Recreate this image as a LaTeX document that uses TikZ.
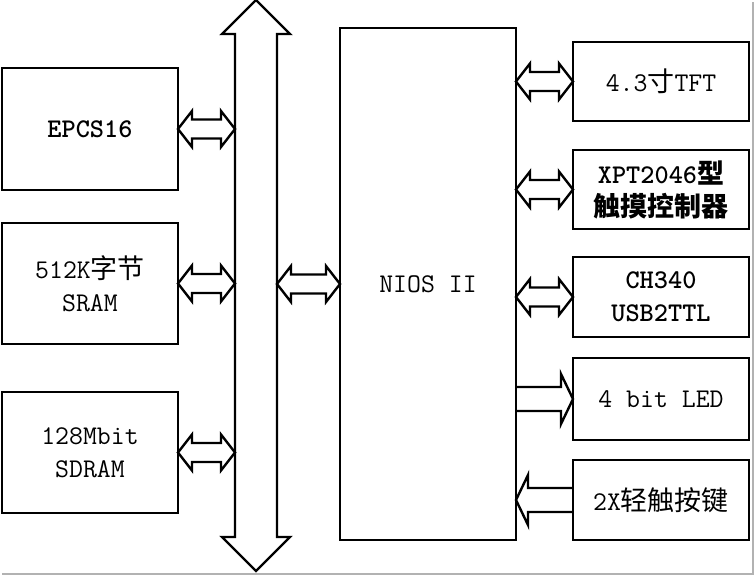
\documentclass[tikz,border=0pt]{standalone}
\usepackage{fontspec}
\newfontfamily\cjk{Noto Sans CJK SC}
\usetikzlibrary{calc}

\tikzset{
    unit/.style={draw, line width=2.4pt, rectangle, inner sep=0pt, outer sep=0pt,
        minimum width=176pt, align=center,
        font=\fontsize{27}{33}\selectfont\ttfamily},
    heavy/.style={font=\fontsize{27}{33}\selectfont\ttfamily\bfseries},
    hollow/.style={draw, line width=2.4pt, line join=miter},
}

\begin{document}
\begin{tikzpicture}[x=1pt,y=-1pt]
    \useasboundingbox (0,0) rectangle (756,577);
    % outline arrows
    \def\twoway#1#2{
        \path ($(#1)!14pt!(#2)$) coordinate (ta) ($(#2)!14pt!(#1)$) coordinate (tb);
        \draw[hollow] (#1) -- ($(ta)!18pt!90:(#2)$) -- ($(ta)!9.5pt!90:(#2)$)
            -- ($(tb)!9.5pt!-90:(#1)$) -- ($(tb)!18pt!-90:(#1)$) -- (#2)
            -- ($(tb)!18pt!90:(#1)$) -- ($(tb)!9.5pt!90:(#1)$)
            -- ($(ta)!9.5pt!-90:(#2)$) -- ($(ta)!18pt!-90:(#2)$) -- cycle;
    }
    \def\oneway#1#2{
        \path ($(#2)!12pt!(#1)$) coordinate (tb);
        \draw[hollow] ($(#1)!12pt!90:(#2)$) -- ($(tb)!12pt!-90:(#1)$)
            -- ($(tb)!25pt!-90:(#1)$) -- (#2) -- ($(tb)!25pt!90:(#1)$)
            -- ($(tb)!12pt!90:(#1)$) -- ($(#1)!12pt!-90:(#2)$);
    }

    % memories
    \node[unit, heavy, minimum height=122pt] (epcs) at (90,129) {EPCS16};
    \node[unit, minimum height=121pt] (sram) at (90,283.5) {512K{\cjk 字节}\\SRAM};
    \node[unit, minimum height=121pt] (sdram) at (90,452.5) {128Mbit\\SDRAM};

    % cpu
    \node[unit, minimum height=512pt] (nios) at (428,284) {NIOS II};

    % peripherals
    \foreach \m/\y/\h/\s/\txt in {tft/81.5/79/unit/{4.3{\cjk 寸}TFT},
        xpt/189.5/79/heavy/{XPT2046{\cjk 型}\\{\cjk 触摸控制器}},
        ch340/297/80/heavy/{CH340\\USB2TTL},
        led/399/82/unit/{4 bit LED},
        keys/500/80/unit/{2X{\cjk 轻触按键}}}{
        \node[unit, \s, minimum height=\h pt] (\m) at (661,\y) {\txt};
    }

    % bus
    \coordinate (bustop) at (256,0);
    \coordinate (busbot) at (256,571);
    \coordinate (busL) at (235,0);
    \coordinate (busR) at (277,0);
    \draw[hollow] (bustop) -- (290,34) -- (277,34) -- (277,537) -- (290,537) -- (busbot)
        -- (222,537) -- (235,537) -- (235,34) -- (222,34) -- cycle;

    \foreach \m in {epcs,sram,sdram}{
        \coordinate (\m-bus) at (\m.east -| busL);
        \twoway{\m.east}{\m-bus}
    }
    \coordinate (nios-bus) at (nios.west -| busR);
    \twoway{nios-bus}{nios.west}

    \foreach \m in {tft,xpt,ch340,led,keys}{
        \coordinate (\m-cpu) at (\m.west -| nios.east);
    }
    \foreach \m in {tft,xpt,ch340}{
        \twoway{\m-cpu}{\m.west}
    }
    \oneway{led-cpu}{led.west}
    \oneway{keys.west}{keys-cpu}

    % shadow
    \draw[gray!60, line width=2pt] (2,574) -- (753,574) -- (753,2);
\end{tikzpicture}
\end{document}
